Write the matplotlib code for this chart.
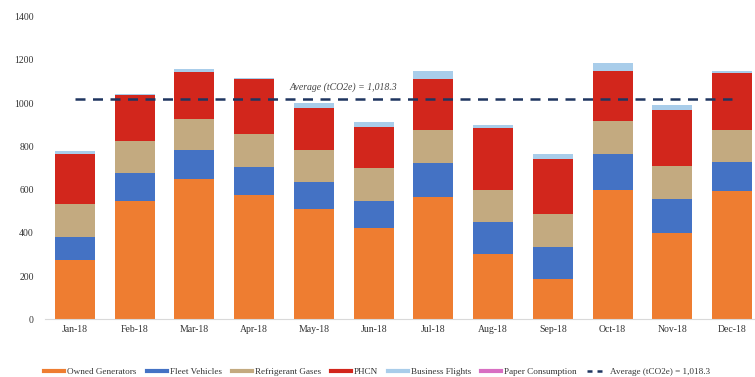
import numpy as np
import matplotlib.pyplot as plt
from matplotlib.lines import Line2D

months = ['Jan-18', 'Feb-18', 'Mar-18', 'Apr-18', 'May-18', 'Jun-18',
          'Jul-18', 'Aug-18', 'Sep-18', 'Oct-18', 'Nov-18', 'Dec-18']

owned_generators = [274, 546, 647, 577, 509, 423, 566, 301, 185, 597, 397, 593]
fleet_vehicles = [107, 131, 134, 126, 126, 123, 157, 149, 150, 166, 158, 134]
refrigerant_gases = [154, 146, 148, 152, 149, 154, 151, 150, 154, 154, 154, 151]
phcn = [228, 214, 214, 255, 194, 192, 238, 284, 254, 230, 260, 262]
business_flights = [14, 5, 17, 6, 22, 20, 38, 17, 20, 37, 23, 10]
paper_consumption = [0, 0, 0, 0, 0, 0, 0, 0, 0, 0, 0, 0]
average_tco2e = 1018.3

series = [
    ('Owned Generators', owned_generators, '#ee7d31'),
    ('Fleet Vehicles', fleet_vehicles, '#4472c4'),
    ('Refrigerant Gases', refrigerant_gases, '#c3aa80'),
    ('PHCN', phcn, '#d2261c'),
    ('Business Flights', business_flights, '#a9cdea'),
    ('Paper Consumption', paper_consumption, '#d86fc2'),
]

plt.rcParams['font.family'] = ['Liberation Serif', 'DejaVu Serif']

fig = plt.figure(figsize=(7.55, 3.77), dpi=100)
ax = fig.add_axes([45 / 755, 57.7 / 377, 710 / 755, 302.6 / 377])

x = np.arange(len(months))
bottom = np.zeros(len(months))
handles = []
for name, vals, color in series:
    ax.bar(x, vals, width=0.67, bottom=bottom, color=color, edgecolor='none')
    bottom += np.array(vals)
    handles.append(Line2D([], [], color=color, lw=3, label=name))

ax.plot([x[0], x[-1]], [average_tco2e, average_tco2e], color='#1f3560',
        lw=1.8, ls=(0, (4, 3)))
handles.append(Line2D([], [], color='#1f3560', lw=1.8, ls=(0, (2, 2)),
                      label='Average (tCO2e) = 1,018.3'))
ax.text(4.5, average_tco2e + 35, 'Average (tCO2e) = 1,018.3', ha='center',
        va='bottom', fontsize=7, style='italic', color='#444444')

ax.set_xlim(-0.5, 11.385)
ax.set_ylim(0, 1400)
ax.set_yticks(range(0, 1401, 200))
ax.set_yticklabels([str(v) for v in range(0, 1401, 200)])
ax.set_xticks(x)
ax.set_xticklabels(months)
ax.tick_params(axis='both', length=0, labelsize=7, colors='#333333')
ax.tick_params(axis='y', pad=8)
ax.tick_params(axis='x', pad=4)
for s in ['top', 'right', 'left']:
    ax.spines[s].set_visible(False)
ax.spines['bottom'].set_color('#d9d9d9')
ax.spines['bottom'].set_linewidth(0.8)

fig.legend(handles=handles, loc='lower left', bbox_to_anchor=(36 / 755, -0.02),
           ncol=7, frameon=False, fontsize=6.6, handlelength=2.2,
           handletextpad=0.3, columnspacing=1.1, labelcolor='#333333')

fig.savefig('out.png', dpi=100)
